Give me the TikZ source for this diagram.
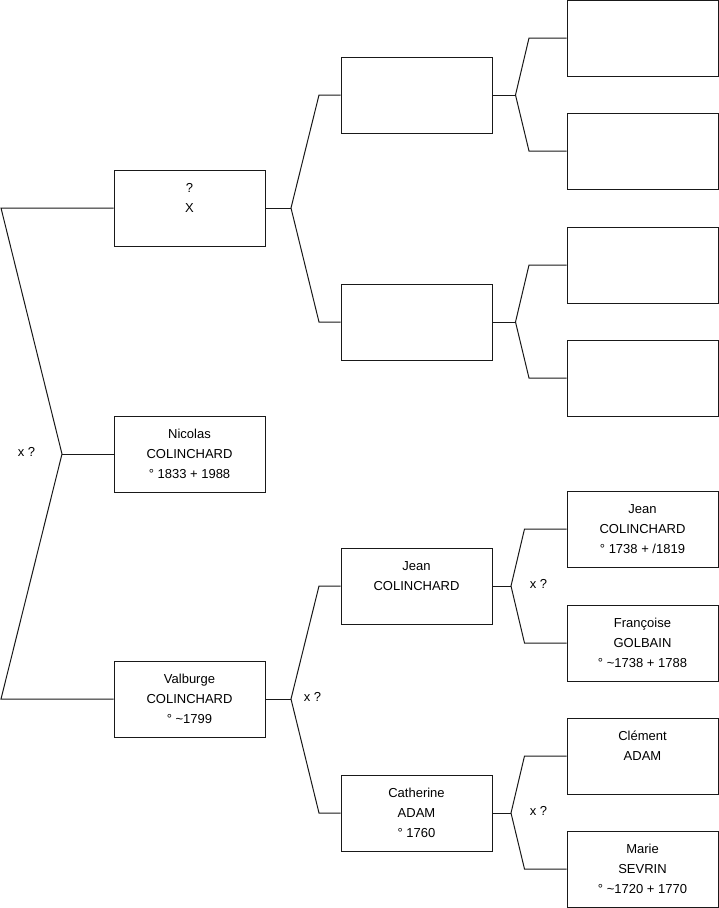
\documentclass[tikz,border=0pt]{standalone}
\usepackage{fontspec}
\setmainfont{Liberation Sans}
\usetikzlibrary{positioning}

\begin{document}
\begin{tikzpicture}[x=1pt, y=-1pt,
    pers/.style={draw=black!90, line width=1pt, minimum width=151pt, minimum height=76pt,
      inner sep=0pt, align=center, font=\fontsize{13}{20}\selectfont},
    lien/.style={draw=black!90, line width=1pt},
    mariage/.style={font=\fontsize{13}{20}\selectfont, inner sep=0pt}]
    \useasboundingbox (0,0) rectangle (719,908);
    % generation 1
    \node[pers] (pere)     at (189.5,208) {\strut ?\\X\\\strut};
    \node[pers] (nicolas)  at (189.5,454) {\strut Nicolas\\COLINCHARD\\\strut ° 1833 + 1988};
    \node[pers] (valburge) at (189.5,699) {\strut Valburge\\COLINCHARD\\\strut ° \textasciitilde 1799};
    % generation 2
    \node[pers] (gp1)       at (416.5,95)  {};
    \node[pers] (gp2)       at (416.5,322) {};
    \node[pers] (jean)      at (416.5,586) {\strut Jean\\COLINCHARD\\\strut};
    \node[pers] (catherine) at (416.5,813) {\strut Catherine\\ADAM\\\strut ° 1760};
    % generation 3
    \node[pers] (agp1)      at (642.5,38)  {};
    \node[pers] (agp2)      at (642.5,151) {};
    \node[pers] (agp3)      at (642.5,265) {};
    \node[pers] (agp4)      at (642.5,378) {};
    \node[pers] (jeanp)     at (642.5,529) {\strut Jean\\COLINCHARD\\\strut ° 1738 + /1819};
    \node[pers] (francoise) at (642.5,643) {\strut Françoise\\GOLBAIN\\\strut ° \textasciitilde 1738 + 1788};
    \node[pers] (clement)   at (642.5,756) {\strut Clément\\ADAM\\\strut};
    \node[pers] (marie)     at (642.5,869) {\strut Marie\\SEVRIN\\\strut ° \textasciitilde 1720 + 1770};
    % fourches
    \coordinate (r0) at (1,208);
    \coordinate (r1) at (62,454);
    \coordinate (r2) at (1,699);
    \draw[lien] (pere.west) -- (r0) -- (r1) -- (r2) -- (valburge.west);
    \draw[lien] (r1) -- (nicolas.west);
    \coordinate (fp) at (291,208);
    \coordinate (fp1) at (319,95);
    \coordinate (fp2) at (319,322);
    \draw[lien] (pere.east) -- (fp);
    \draw[lien] (gp1.west) -- (fp1) -- (fp) -- (fp2) -- (gp2.west);
    \coordinate (fv) at (291,699);
    \coordinate (fv1) at (319,586);
    \coordinate (fv2) at (319,813);
    \draw[lien] (valburge.east) -- (fv);
    \draw[lien] (jean.west) -- (fv1) -- (fv) -- (fv2) -- (catherine.west);
    \coordinate (f1) at (515.5,95);
    \coordinate (f11) at (529,38);
    \coordinate (f12) at (529,151);
    \draw[lien] (gp1.east) -- (f1);
    \draw[lien] (agp1.west) -- (f11) -- (f1) -- (f12) -- (agp2.west);
    \coordinate (f2) at (515.5,322);
    \coordinate (f21) at (529,265);
    \coordinate (f22) at (529,378);
    \draw[lien] (gp2.east) -- (f2);
    \draw[lien] (agp3.west) -- (f21) -- (f2) -- (f22) -- (agp4.west);
    \coordinate (f3) at (511,586);
    \coordinate (f31) at (524.5,529);
    \coordinate (f32) at (524.5,643);
    \draw[lien] (jean.east) -- (f3);
    \draw[lien] (jeanp.west) -- (f31) -- (f3) -- (f32) -- (francoise.west);
    \coordinate (f4) at (511,813);
    \coordinate (f41) at (524.5,756);
    \coordinate (f42) at (524.5,869);
    \draw[lien] (catherine.east) -- (f4);
    \draw[lien] (clement.west) -- (f41) -- (f4) -- (f42) -- (marie.west);
    % unions
    \node[mariage] (m0) at (26.5,452)  {x ?};
    \node[mariage] (m1) at (312.5,697) {x ?};
    \node[mariage] (m2) at (538.5,584) {x ?};
    \node[mariage] (m3) at (538.5,811) {x ?};
\end{tikzpicture}
\end{document}
